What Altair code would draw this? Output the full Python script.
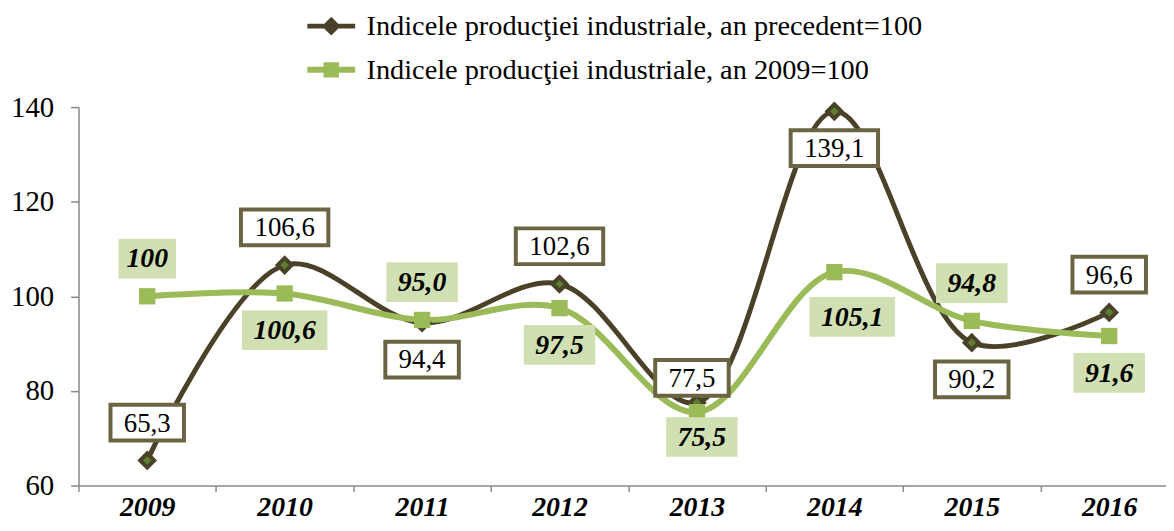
import altair as alt
import pandas as pd

# ---- data ----
years = ["2009", "2010", "2011", "2012", "2013", "2014", "2015", "2016"]
series_names = [
    "Indicele producţiei industriale, an precedent=100",
    "Indicele producţiei industriale, an 2009=100",
]
prev_year_index = [65.3, 106.6, 94.4, 102.6, 77.5, 139.1, 90.2, 96.6]
base_2009_index = [100.0, 100.6, 95.0, 97.5, 75.5, 105.1, 94.8, 91.6]
prev_labels = ["65,3", "106,6", "94,4", "102,6", "77,5", "139,1", "90,2", "96,6"]
base_labels = ["100", "100,6", "95,0", "97,5", "75,5", "105,1", "94,8", "91,6"]
prev_place = ["above", "above", "below", "above", "above_near", "below", "below", "above"]
base_place = ["above", "below", "above", "below", "below_near", "below_far", "above", "below"]

# ---- styles ----
BROWN = "#4a4129"
BOX_EDGE = "#6b6443"
GREEN = "#9bbb59"
GREEN_BG = "#d0e0b2"
FONT = "Liberation Serif"
OFFSETS = {
    "above": (0, -38),
    "below": (0, 37),
    "above_near": (-5, -25),
    "below_near": (5, 25),
    "below_far": (18, 45),
}

rows = []
for name, vals, labs, places in [
    (series_names[0], prev_year_index, prev_labels, prev_place),
    (series_names[1], base_2009_index, base_labels, base_place),
]:
    for y, v, l, p in zip(years, vals, labs, places):
        rows.append({"year": y, "value": v, "series": name, "label": l, "place": p})
df = pd.DataFrame(rows)

x_enc = alt.X(
    "year:O",
    sort=years,
    bandPosition=0.5,
    scale=alt.Scale(type="band", paddingInner=0, paddingOuter=0),
    axis=alt.Axis(
        title=None, labelAngle=0, labelFont=FONT, labelFontSize=28,
        labelFontWeight="bold", labelFontStyle="italic", labelColor="black",
        labelPadding=2, tickBand="extent", tickSize=6, tickColor="#898989",
        tickWidth=1.5, domainColor="#898989", domainWidth=1.5, grid=False,
    ),
)
y_enc = alt.Y(
    "value:Q",
    scale=alt.Scale(domain=[60, 140], nice=False, zero=False),
    axis=alt.Axis(
        title=None, values=[60, 80, 100, 120, 140], labelFont=FONT,
        labelFontSize=29, labelColor="black", labelPadding=17, tickSize=8,
        tickColor="#898989", tickWidth=1.5, domainColor="#898989",
        domainWidth=1.5, grid=False,
    ),
)

base = alt.Chart(df)
dark = base.transform_filter(alt.datum.series == series_names[0])
light = base.transform_filter(alt.datum.series == series_names[1])

dark_line = dark.mark_line(interpolate="catmull-rom", color=BROWN, strokeWidth=5).encode(x=x_enc, y=y_enc)
light_line = light.mark_line(interpolate="catmull-rom", color=GREEN, strokeWidth=6).encode(x=x_enc, y=y_enc)
dark_pts = dark.mark_point(
    shape="diamond", size=200, fill="#5e7d2f", stroke=BROWN, strokeWidth=4, opacity=1, fillOpacity=1
).encode(x=x_enc, y=y_enc)
light_pts = light.mark_point(
    shape="square", size=270, filled=True, color=GREEN, opacity=1
).encode(x=x_enc, y=y_enc)

# legend-only layer (invisible points, legend symbols drawn as line + marker)
path_dark = "M-1.12,-0.11H1.12V0.11H-1.12Z M0,-0.44L0.44,0L0,0.44L-0.44,0Z"
path_green = "M-1.12,-0.14H1.12V0.14H-1.12Z M-0.36,-0.36H0.36V0.36H-0.36Z"
leg = alt.Legend(
    title=None, orient="none", legendX=233, legendY=-103, direction="vertical",
    symbolSize=1849, symbolStrokeWidth=0, symbolOpacity=1, labelFont=FONT,
    labelFontSize=28.5, labelColor="black", labelOffset=14, rowPadding=8,
    labelLimit=1000, padding=0,
)
legend_layer = base.mark_point(filled=True, opacity=0, size=10).encode(
    x=x_enc, y=y_enc,
    color=alt.Color("series:N", scale=alt.Scale(domain=series_names, range=[BROWN, GREEN]), legend=leg),
    shape=alt.Shape("series:N", scale=alt.Scale(domain=series_names, range=[path_dark, path_green]), legend=leg),
)


def box_path(n_chars, per_char, extra, half_h):
    hw = (per_char * n_chars + extra) / 100.0
    return "M%.3f,%.3fH%.3fV%.3fH%.3fZ" % (-hw, -half_h, hw, half_h, -hw)


label_layers = []
for idx, src in enumerate([dark, light]):
    for pname, (dx, dy) in OFFSETS.items():
        sub = src.transform_filter(alt.datum.place == pname)
        if idx == 0:
            box_mark = dict(fill="white", stroke=BOX_EDGE, strokeWidth=4)
            txt_mark = dict(font=FONT, fontSize=27, color="black")
        else:
            box_mark = dict(fill=GREEN_BG, strokeWidth=0)
            txt_mark = dict(font=FONT, fontSize=28, fontWeight="bold", fontStyle="italic", color="black")
        for n in (3, 4, 5):
            if idx == 0:
                shp = box_path(n, 14, 18, 0.36)
            else:
                shp = box_path(n, 14, 16, 0.40)
            box = sub.transform_filter("length(datum.label) == %d" % n).mark_point(
                shape=shp, size=10000, opacity=1, fillOpacity=1, xOffset=dx, yOffset=dy, **box_mark
            ).encode(x=x_enc, y=y_enc)
            label_layers.append(box)
        txt = sub.mark_text(align="center", baseline="middle", dx=dx, dy=dy + 1, **txt_mark).encode(
            x=x_enc, y=y_enc, text="label:N"
        )
        label_layers.append(txt)

chart = alt.layer(
    legend_layer, dark_line, light_line, dark_pts, light_pts, *label_layers
).properties(
    width=1107, height=381,
    autosize=alt.AutoSizeParams(type="none"),
    padding={"left": 71, "top": 98, "right": -12, "bottom": 38},
).configure_view(stroke=None)

chart.save("out.html", embed_options={"renderer": "svg", "actions": False})
